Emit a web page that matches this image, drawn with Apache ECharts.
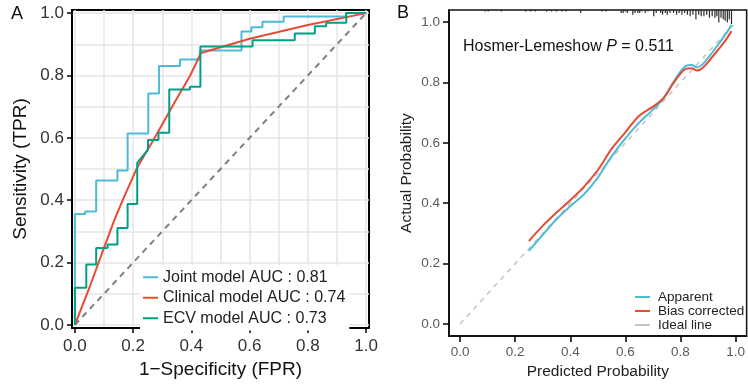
<!DOCTYPE html>
<html>
<head>
<meta charset="utf-8">
<script src="https://cdn.jsdelivr.net/npm/echarts@6/dist/echarts.min.js"></script>
<style>
html, body { margin: 0; padding: 0; background: #fff; }
#chart { width: 748px; height: 385px; }
</style>
</head>
<body>
<div id="chart"></div>
<script>
const FONT = '"Liberation Sans", Arial, Helvetica, sans-serif';

// ---- Panel A: ROC curves (false positive rate, true positive rate) ----
const jointFpr = [0, 0, 0.035, 0.035, 0.073, 0.073, 0.146, 0.146, 0.181, 0.181, 0.252, 0.252, 0.289, 0.289, 0.361, 0.361, 0.429, 0.429, 0.572, 0.572, 0.606, 0.606, 0.644, 0.644, 0.717, 0.717, 0.931, 0.931, 1];
const jointTpr = [0, 0.356, 0.356, 0.364, 0.364, 0.463, 0.463, 0.495, 0.495, 0.614, 0.614, 0.742, 0.742, 0.83, 0.83, 0.851, 0.851, 0.88, 0.88, 0.941, 0.941, 0.955, 0.955, 0.972, 0.972, 0.989, 0.989, 1, 1];

const clinicalFpr = [0, 0.05, 0.103, 0.137, 0.166, 0.214, 0.274, 0.348, 0.396, 0.433, 0.6, 0.8, 1];
const clinicalTpr = [0, 0.12, 0.255, 0.34, 0.404, 0.505, 0.6, 0.723, 0.8, 0.872, 0.918, 0.962, 1];

const ecvFpr = [0, 0, 0.039, 0.039, 0.073, 0.073, 0.112, 0.112, 0.146, 0.146, 0.181, 0.181, 0.214, 0.214, 0.251, 0.251, 0.287, 0.287, 0.324, 0.324, 0.395, 0.395, 0.431, 0.431, 0.61, 0.61, 0.755, 0.755, 0.824, 0.824, 0.863, 0.863, 0.932, 0.932, 1];
const ecvTpr = [0, 0.119, 0.119, 0.194, 0.194, 0.247, 0.247, 0.258, 0.258, 0.311, 0.311, 0.388, 0.388, 0.52, 0.562, 0.593, 0.593, 0.616, 0.616, 0.755, 0.755, 0.764, 0.764, 0.893, 0.893, 0.913, 0.913, 0.935, 0.935, 0.958, 0.958, 0.969, 0.969, 1, 1];

const modelNames = ['Joint model', 'Clinical model', 'ECV model'];
const modelAuc = ['0.81', '0.74', '0.73'];
const chanceLine = [[0, 0], [1, 1]];

// ---- Panel B: calibration curves ----
const calPred = [0.25, 0.30, 0.35, 0.40, 0.45, 0.50, 0.55, 0.60, 0.65, 0.70, 0.74, 0.78, 0.82, 0.84, 0.86, 0.88, 0.92, 0.96, 0.985];
const apparent = [0.242, 0.295, 0.347, 0.39, 0.43, 0.485, 0.555, 0.615, 0.667, 0.71, 0.75, 0.81, 0.855, 0.858, 0.85, 0.86, 0.905, 0.955, 0.99];
const biasCorrected = [0.275, 0.325, 0.369, 0.41, 0.455, 0.51, 0.58, 0.635, 0.69, 0.72, 0.75, 0.805, 0.845, 0.847, 0.84, 0.848, 0.89, 0.935, 0.97];
const idealLine = [[0, 0], [1, 1]];
const hlP = '0.511';

// distribution of predicted probabilities (spike histogram along the top)
const rugPred = [0.091, 0.102, 0.150, 0.238, 0.256, 0.273, 0.314, 0.332, 0.350, 0.371, 0.385, 0.438, 0.515, 0.529,
  0.585, 0.592, 0.600, 0.607, 0.627, 0.635, 0.645, 0.652, 0.660, 0.672, 0.682, 0.703, 0.712, 0.728, 0.735, 0.745,
  0.752, 0.762, 0.775, 0.786, 0.795, 0.805, 0.815, 0.825, 0.835, 0.845, 0.856, 0.866, 0.875, 0.885, 0.895, 0.905,
  0.915, 0.925, 0.932, 0.939, 0.947, 0.955, 0.962, 0.970, 0.977, 0.985];
const rugCount = [1, 1, 1, 1, 1, 1, 1, 1, 1, 1, 1, 2, 1, 1,
  2, 2, 1, 2, 3, 2, 2, 2, 1, 2, 1, 4, 2, 2, 3, 2,
  3, 2, 2, 3, 2, 3, 2, 3, 4, 3, 6, 3, 4, 4, 3, 5,
  4, 5, 4, 8, 5, 6, 7, 8, 6, 9];

const majorTicks = [0, 0.2, 0.4, 0.6, 0.8, 1.0];
const minorTicks = [0, 0.1, 0.2, 0.3, 0.4, 0.5, 0.6, 0.7, 0.8, 0.9, 1.0];

const zip = (a, b) => a.map((v, i) => [v, b[i]]);
const fmt = v => v.toFixed(1);

const COL_JOINT = '#4DBBD5';
const COL_CLIN = '#E64B35';
const COL_ECV = '#00A087';

const rocNames = modelNames.map((n, i) => n + ' AUC : ' + modelAuc[i]);

function mainAxis(grid, lo, hi, opts) {
  return Object.assign({
    type: 'value', gridIndex: grid, min: lo, max: hi,
    axisLine: { show: true, onZero: false, lineStyle: { color: '#000', width: opts.lw } },
    axisTick: { show: true, inside: false, customValues: majorTicks, length: opts.tick, lineStyle: { color: '#000', width: 1.5 } },
    axisLabel: { customValues: majorTicks, formatter: fmt, fontSize: opts.fs, color: opts.lc, margin: opts.margin, fontFamily: FONT },
    splitLine: { show: false },
    nameLocation: 'middle',
    nameTextStyle: { fontSize: opts.nfs, color: opts.nc, fontFamily: FONT }
  }, opts.extra || {});
}

function gridLineAxis(grid, lo, hi) {
  return {
    type: 'value', gridIndex: grid, min: lo, max: hi,
    axisLine: { show: false, onZero: false },
    axisTick: { show: false, customValues: minorTicks },
    axisLabel: { show: false },
    splitLine: { show: true, lineStyle: { color: '#e6e6e6', width: 1.5 } }
  };
}

const chart = echarts.init(document.getElementById('chart'), null, { renderer: 'canvas' });

chart.setOption({
  animation: false,
  backgroundColor: '#fff',
  textStyle: { fontFamily: FONT },
  grid: [
    { left: 72, top: 10, width: 297, height: 318, show: true, borderColor: '#000', borderWidth: 2, backgroundColor: 'transparent' },
    { left: 449, top: 10, width: 306, height: 327, show: true, borderColor: '#111', borderWidth: 1.5, backgroundColor: 'transparent' }
  ],
  xAxis: [
    mainAxis(0, -0.01, 1.01, { tick: 5, lw: 2, fs: 17, lc: '#333', margin: 10, nfs: 19, nc: '#111',
      extra: { name: '1\u2212Specificity (FPR)', nameGap: 32 } }),
    gridLineAxis(0, -0.01, 1.01),
    mainAxis(1, -0.04, 1.04, { tick: 6, lw: 1.5, fs: 13.5, lc: '#5a5a5a', margin: 9, nfs: 15.5, nc: '#222',
      extra: { name: 'Predicted Probability', nameGap: 27 } })
  ],
  yAxis: [
    mainAxis(0, -0.01, 1.01, { tick: 5, lw: 2, fs: 17, lc: '#333', margin: 8, nfs: 19, nc: '#111',
      extra: { name: 'Sensitivity (TPR)', nameGap: 42 } }),
    gridLineAxis(0, -0.01, 1.01),
    mainAxis(1, -0.04, 1.04, { tick: 6, lw: 1.5, fs: 13.5, lc: '#5a5a5a', margin: 9, nfs: 15.5, nc: '#222',
      extra: { name: 'Actual Probability', nameGap: 34 } }),
    { type: 'value', gridIndex: 1, inverse: true, min: 0, max: 210, show: false }
  ],
  legend: [
    {
      data: rocNames,
      orient: 'vertical', left: 140, top: 265, padding: [3, 4, 3, 3],
      backgroundColor: '#fff',
      icon: 'rect', itemWidth: 15, itemHeight: 2, itemGap: 2,
      textStyle: { fontSize: 16, color: '#222', lineHeight: 18.5, fontFamily: FONT }
    },
    {
      data: ['Apparent', 'Bias corrected', 'Ideal line'],
      orient: 'vertical', left: 632, top: 289, padding: [1, 2, 1, 3],
      icon: 'rect', itemWidth: 15, itemHeight: 2, itemGap: 0,
      textStyle: { fontSize: 13.5, color: '#222', lineHeight: 13.4, padding: [0, 0, 0, 3], fontFamily: FONT }
    }
  ],
  series: [
    {
      name: 'chance', type: 'line', xAxisIndex: 0, yAxisIndex: 0, data: chanceLine,
      symbol: 'none', silent: true,
      lineStyle: { color: '#7f7f7f', width: 2, type: [6, 5] }
    },
    {
      name: rocNames[0], type: 'line', xAxisIndex: 0, yAxisIndex: 0, data: zip(jointFpr, jointTpr),
      symbol: 'none', color: COL_JOINT, lineStyle: { color: COL_JOINT, width: 2 }
    },
    {
      name: rocNames[1], type: 'line', xAxisIndex: 0, yAxisIndex: 0, data: zip(clinicalFpr, clinicalTpr),
      symbol: 'none', color: COL_CLIN, lineStyle: { color: COL_CLIN, width: 2 }
    },
    {
      name: rocNames[2], type: 'line', xAxisIndex: 0, yAxisIndex: 0, data: zip(ecvFpr, ecvTpr),
      symbol: 'none', color: COL_ECV, lineStyle: { color: COL_ECV, width: 2 }
    },
    {
      name: 'Ideal line', type: 'line', xAxisIndex: 2, yAxisIndex: 2, data: idealLine,
      symbol: 'none', color: '#c4c4c4', lineStyle: { color: '#c4c4c4', width: 1.5, type: [5, 5] }
    },
    {
      name: 'Apparent', type: 'line', xAxisIndex: 2, yAxisIndex: 2, data: zip(calPred, apparent),
      symbol: 'none', smooth: 0.35, color: COL_JOINT, lineStyle: { color: COL_JOINT, width: 2 }
    },
    {
      name: 'Bias corrected', type: 'line', xAxisIndex: 2, yAxisIndex: 2, data: zip(calPred, biasCorrected),
      symbol: 'none', smooth: 0.35, color: COL_CLIN, lineStyle: { color: COL_CLIN, width: 2 }
    },
    {
      name: 'rug', type: 'bar', xAxisIndex: 2, yAxisIndex: 3, data: zip(rugPred, rugCount),
      barWidth: 1.2, silent: true, itemStyle: { color: '#2a2a2a' }
    }
  ],
  graphic: [
    { type: 'text', left: 11, top: 5, style: { text: 'A', fontSize: 18, fill: '#111', fontFamily: FONT } },
    { type: 'text', left: 397, top: 4, style: { text: 'B', fontSize: 18, fill: '#111', fontFamily: FONT } },
    {
      type: 'text', left: 463, top: 39,
      style: {
        text: 'Hosmer-Lemeshow {i|P} = ' + hlP,
        fontSize: 16, fill: '#111', fontFamily: FONT,
        rich: { i: { fontStyle: 'italic', fontSize: 16, fontFamily: FONT, fill: '#111' } }
      }
    }
  ]
});
</script>
</body>
</html>
